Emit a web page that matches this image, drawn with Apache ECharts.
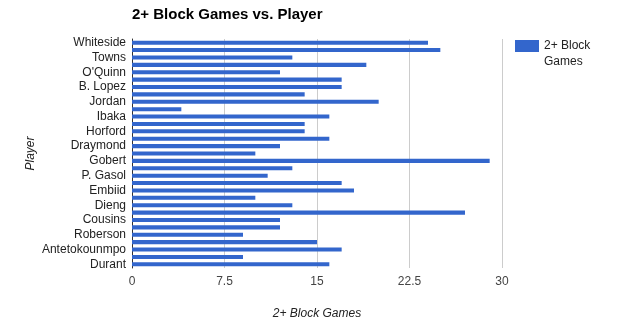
<!DOCTYPE html>
<html>
<head>
<meta charset="utf-8">
<script src="https://cdn.jsdelivr.net/npm/echarts@6/dist/echarts.min.js"></script>
<style>
html,body{margin:0;padding:0;background:#fff;}
#chart{width:628px;height:332px;}
</style>
</head>
<body>
<div id="chart"></div>
<script>
var categories = [
  'Whiteside', '', 'Towns', '', "O'Quinn", '', 'B. Lopez', '', 'Jordan', '', 'Ibaka', '',
  'Horford', '', 'Draymond', '', 'Gobert', '', 'P. Gasol', '', 'Embiid', '', 'Dieng', '',
  'Cousins', '', 'Roberson', '', 'Antetokounmpo', '', 'Durant'
];
var blockGames = [
  24, 25, 13, 19, 12, 17, 17, 14, 20, 4, 16, 14,
  14, 16, 12, 10, 29, 13, 11, 17, 18, 10, 13, 27,
  12, 12, 9, 15, 17, 9, 16
];
var seriesName = '2+ Block Games';
var xTicks = [0, 7.5, 15, 22.5, 30];

var font = '"Liberation Sans", Arial, sans-serif';
var chart = echarts.init(document.getElementById('chart'));
chart.setOption({
  animation: false,
  backgroundColor: '#ffffff',
  title: {
    text: '2+ Block Games vs. Player',
    left: 127,
    top: 2,
    textStyle: { fontFamily: font, fontSize: 15, fontWeight: 'bold', color: '#000' }
  },
  legend: {
    data: [seriesName],
    left: 515,
    top: 22,
    padding: 0,
    itemWidth: 24,
    itemHeight: 12,
    itemGap: 5,
    icon: 'rect',
    formatter: function () { return ' \n2+ Block\nGames'; },
    textStyle: { fontFamily: font, fontSize: 12, color: '#222', lineHeight: 16 }
  },
  grid: { left: 132, right: 126, top: 39, bottom: 64, containLabel: false },
  xAxis: {
    type: 'value',
    min: xTicks[0],
    max: xTicks[xTicks.length - 1],
    interval: 7.5,
    name: '2+ Block Games',
    nameLocation: 'middle',
    nameGap: 40,
    nameMoveOverlap: false,
    nameTextStyle: { fontFamily: font, fontSize: 12, fontStyle: 'italic', color: '#222' },
    axisLine: { show: false },
    axisTick: { show: false },
    axisLabel: { fontFamily: font, fontSize: 12, color: '#444', margin: 8 },
    splitLine: { show: true, lineStyle: { color: '#cccccc', width: 1 } }
  },
  yAxis: {
    type: 'category',
    inverse: true,
    data: categories,
    name: 'Player',
    nameLocation: 'middle',
    nameGap: 95,
    nameMoveOverlap: false,
    nameTextStyle: { fontFamily: font, fontSize: 12, fontStyle: 'italic', color: '#222' },
    axisLine: { show: true, lineStyle: { color: '#333333', width: 1 } },
    axisTick: { show: false },
    axisLabel: { interval: 1, fontFamily: font, fontSize: 12, color: '#222', margin: 6 },
    splitLine: { show: false }
  },
  series: [{
    name: seriesName,
    type: 'bar',
    data: blockGames,
    barCategoryGap: '45%',
    itemStyle: { color: '#3366cc' }
  }]
});
</script>
</body>
</html>
